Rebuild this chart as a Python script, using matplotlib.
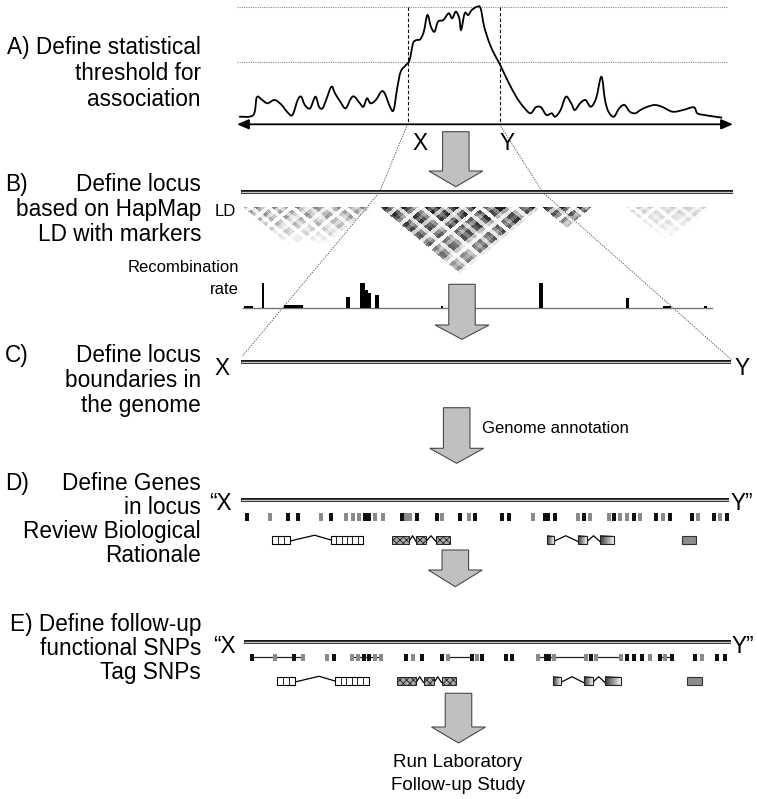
import numpy as np
import matplotlib
matplotlib.use("Agg")
import matplotlib.pyplot as plt
from matplotlib.patches import Polygon, Rectangle, PathPatch
from matplotlib.path import Path
from matplotlib.colors import LinearSegmentedColormap

plt.rcParams['font.family'] = ['Liberation Sans', 'DejaVu Sans']
plt.rcParams['hatch.linewidth'] = 0.6

# ---------------- data ----------------
# A) association signal along the region (x position, plotted level)
assoc_x = [239.1, 253.3, 256.8, 262.2, 267.5, 274.6, 281.7, 287.0, 292.4, 297.7, 301.2, 304.8,
           310.1, 315.4, 319.0, 322.5, 326.1, 331.4, 335.0, 340.3, 345.6, 351.0, 354.5, 359.9,
           363.4, 367.0, 370.5, 375.8, 381.2, 384.7, 390.0, 393.6, 397.2, 400.7, 406.0, 409.6,
           413.1, 416.7, 420.2, 423.8, 427.4, 430.9, 434.5, 438.0, 443.3, 448.7, 452.2, 455.8,
           459.3, 461.1, 464.7, 468.2, 471.8, 477.1, 480.6, 484.2, 489.5, 494.8, 500.2, 507.3,
           516.2, 523.3, 530.4, 535.7, 541.0, 546.4, 551.7, 555.2, 560.6, 565.9, 571.2, 574.8,
           580.1, 585.4, 590.8, 596.1, 601.4, 605.0, 608.5, 613.8, 619.2, 624.5, 629.8, 635.2,
           640.5, 647.6, 654.7, 661.8, 672.5, 683.1, 693.8, 697.3, 704.4, 715.1, 722.2]
assoc_y = [116.7, 115.0, 97.3, 100.0, 103.3, 100.0, 105.0, 111.7, 115.0, 100.0, 96.7, 105.0,
           108.3, 96.7, 106.7, 108.3, 100.0, 86.7, 93.3, 101.7, 108.3, 98.3, 96.7, 103.3,
           106.7, 98.3, 103.3, 100.0, 91.7, 93.3, 106.7, 110.0, 88.3, 71.7, 65.0, 60.0,
           43.3, 40.0, 39.3, 31.7, 15.0, 26.7, 31.7, 21.7, 20.0, 13.3, 18.3, 11.7,
           18.3, 30.0, 13.3, 15.0, 10.0, 6.7, 8.3, 26.7, 43.3, 55.0, 65.0, 80.0,
           96.7, 106.7, 113.3, 107.3, 107.3, 115.0, 113.3, 116.7, 110.0, 96.7, 103.3, 110.0,
           103.3, 100.0, 106.7, 98.3, 76.7, 100.0, 111.7, 116.7, 108.3, 105.0, 111.7, 113.3,
           110.0, 106.7, 105.0, 106.7, 111.7, 110.0, 107.3, 113.3, 115.0, 116.7, 117.7]
threshold_levels = [7.3, 62.0]
locus_bounds = [407.5, 499.5]

# B) LD markers (relative informativeness 0-9) and LD blocks
ld_marker_strength = ("8397295819" "6498379286" "9518973986" "2979489379"
                      "1869952879" "3984972968" "9179583969" "2879498593")
ld_block_start = [243, 380, 542, 626]
ld_block_end = [377, 541, 592, 711]
ld_block_r2 = [0.6, 0.9, 0.9, 0.35]
ld_block_reach = [90, 240, 60, 80]

# B) recombination rate peaks (left, width, rate)
recomb_left = [244, 261.5, 284, 346, 360, 364.5, 368, 375, 441, 539, 625.6, 663, 704]
recomb_width = [9, 2.5, 19, 4, 4.5, 3.5, 3, 4, 1.5, 4, 3.4, 8, 2.5]
recomb_rate = [2, 24.4, 2.5, 11, 25, 17.7, 14.4, 12.7, 1.5, 25, 9.4, 2, 1.5]

# D) SNPs in locus (b = black, g = grey, B = wide black)
snp_d_x = [247, 270, 288, 298, 321, 331, 346, 353, 359, 365, 369, 375, 383, 402, 406, 410, 417,
           437, 442, 460, 469, 475, 502, 509, 533, 546, 555, 578, 584, 590, 609, 614, 620, 627,
           634, 640, 656, 663, 670, 692, 698, 714, 720, 727]
snp_d_col = "bgbbgbgggbbggbggbbgbgbbbgBbgbggbggbgbgbbgbgb"

# E) follow-up SNPs and tag SNP links
snp_e_x = [252, 275, 294, 303, 327, 334, 352, 358, 364, 369, 375, 381, 406, 413, 422,
           442, 448, 472, 477, 482, 506, 512, 538, 547, 554, 586, 591, 596, 621, 627, 634,
           642, 650, 660, 665, 672, 695, 702, 717, 725]
snp_e_col = "bgbggbggbbggbgbbgbgbbbgBggbggbbbgbgbbgbb"
tag_links = [(252, 303), (352, 381), (448, 472), (538, 586), (596, 621), (660, 672)]

# Genes: exon extents and style
genes_d = [([(272, 290), (331, 363)], 'cells'),
           ([(392, 409), (416, 426), (436, 450)], 'hatch'),
           ([(547, 553.5), (578, 587), (600, 614)], 'grad'),
           ([(681.5, 696)], 'solid')]
genes_e = [([(277, 295), (335, 368.5)], 'cells'),
           ([(397, 416), (423.5, 434), (441.5, 456)], 'hatch'),
           ([(553, 560.5), (583.5, 592.5), (605, 621)], 'grad'),
           ([(687, 702)], 'solid')]
gene_cells = [3, 6]

# ---------------- figure ----------------
W, H = 757, 799
fig = plt.figure(figsize=(W / 100, H / 100), dpi=100)
ax = fig.add_axes([0, 0, 1, 1])
ax.set_xlim(0, W)
ax.set_ylim(H, 0)
ax.axis('off')

FS = 16.3
FS_S = 12
PT = 0.72  # px -> points

# ---- Panel labels ----
def label(x, y, s, ha='right', fs=FS):
    ax.text(x, y, s, ha=ha, va='baseline', fontsize=fs, color='black')

label(201, 54, "A) Define statistical")
label(201, 80, "threshold for")
label(201, 106, "association")
label(5, 191, "B)", ha='left'); label(201, 191, "Define locus")
label(201, 216, "based on HapMap")
label(201, 241, "LD with markers")
label(5, 362, "C)", ha='left'); label(201, 362, "Define locus")
label(201, 387, "boundaries in")
label(201, 412, "the genome")
label(5, 490, "D)", ha='left'); label(201, 490, "Define Genes")
label(201, 514, "in locus")
label(201, 538, "Review Biological")
label(201, 562, "Rationale")
label(201, 631, "E) Define follow-up")
label(201, 655, "functional SNPs")
label(201, 679, "Tag SNPs")
ax.text(458, 767, "Run Laboratory", ha='center', va='baseline', fontsize=13.5)
ax.text(458, 790, "Follow-up Study", ha='center', va='baseline', fontsize=13.5)

# ---- Panel A ----
axis_y = 124.3
for ty in threshold_levels:
    ax.plot([237, 727.5], [ty, ty], color='#8c8c8c', lw=0.8, ls=(0, (1, 1)), zorder=1)
for bx in locus_bounds:
    ax.plot([bx, bx], [threshold_levels[0], axis_y], color='black', lw=0.8,
            ls=(0, (3, 2)), zorder=2)

# smooth curve through the association values (Catmull-Rom as cubic Bezier)
P = np.column_stack([assoc_x, assoc_y])
verts = [tuple(P[0])]
codes = [Path.MOVETO]
for i in range(len(P) - 1):
    p0 = P[i - 1] if i > 0 else P[i]
    p1, p2 = P[i], P[i + 1]
    p3 = P[i + 2] if i + 2 < len(P) else P[i + 1]
    c1 = p1 + (p2 - p0) / 6.0
    c2 = p2 - (p3 - p1) / 6.0
    verts += [tuple(c1), tuple(c2), tuple(p2)]
    codes += [Path.CURVE4] * 3
ax.add_patch(PathPatch(Path(verts, codes), fill=False, ec='black', lw=1.3, zorder=3))

ax.annotate('', xy=(733, axis_y), xytext=(237, axis_y),
            arrowprops=dict(arrowstyle='<|-|>,head_length=0.7,head_width=0.3',
                            color='black', lw=1.3, shrinkA=0, shrinkB=0))
ax.text(420, 143.3, "X", ha='center', va='center', fontsize=FS)
ax.text(507, 143.3, "Y", ha='center', va='center', fontsize=FS)

# zoom guide lines
guide_kw = dict(color='#444444', lw=0.6, ls=(0, (1.5, 1.5)), zorder=2)
ax.plot([locus_bounds[0], 379.4, 241.9], [axis_y, 192.3, 356.7], **guide_kw)
ax.plot([locus_bounds[1], 542.8, 731.8], [axis_y, 192.3, 360.0], **guide_kw)

# ---- double chromosome lines ----
def dbl(x0, x1, y):
    ax.plot([x0, x1], [y, y], color='#1a1a1a', lw=4.0 * PT, solid_capstyle='butt', zorder=4)
    ax.plot([x0, x1], [y, y], color='#c8c8c8', lw=1.4 * PT, solid_capstyle='butt', zorder=4)

dbl(241, 733, 192.3)
dbl(241, 731, 361.7)
dbl(241, 729, 500)
dbl(244, 731, 641.7)

# ---- Panel B: LD heatmap ----
ld_top, ld_x0, ld_x1 = 206.7, 242.0, 712.0
k = 0.83
g = np.array([int(c) for c in ld_marker_strength], dtype=float) / 9.0
n = len(g)
spacing = (ld_x1 - ld_x0) / n
xs = np.arange(ld_x0, ld_x1, 1.0) + 0.5
ys = np.arange(ld_top, 292, 1.0) + 0.5
X, Y = np.meshgrid(xs, ys)
d = (Y - ld_top) / k
A = X - d
B = X + d
valid = (A >= ld_x0) & (B <= ld_x1)
ia = np.clip(((A - ld_x0) / spacing).astype(int), 0, n - 1)
ib = np.clip(((B - ld_x0) / spacing).astype(int), 0, n - 1)
img = np.zeros_like(X)
for s0, e0, r2, reach in zip(ld_block_start, ld_block_end, ld_block_r2, ld_block_reach):
    inblk = valid & (A >= s0) & (B <= e0)
    fade = np.clip(1 - (B - A) / reach, 0, 1) ** 0.5
    val = r2 * fade * (g[ia] * g[ib])
    img = np.where(inblk, np.maximum(img, val), img)
ax.imshow(img, extent=(ld_x0, ld_x1, ys[-1] + 0.5, ld_top), cmap='Greys', vmin=0.05, vmax=1.0,
          interpolation='bilinear', aspect='auto', zorder=1)
ax.text(235.5, 216, "LD", ha='right', va='baseline', fontsize=FS_S)
ax.text(239, 272.5, "Recombination", ha='right', va='baseline', fontsize=FS_S)
ax.text(239, 294, "rate", ha='right', va='baseline', fontsize=FS_S)

# recombination rate
rec_base = 307.7
ax.plot([242.6, 711.5], [rec_base, rec_base], color='#777777', lw=1.0, zorder=2)
ax.bar(recomb_left, [-r for r in recomb_rate], bottom=rec_base, width=recomb_width,
       align='edge', color='black', zorder=3)

# ---- gray arrows ----
def gray_arrow(cx, top, head_top, tip, sw=26.5, hw=54):
    pts = [(cx - sw / 2, top), (cx + sw / 2, top), (cx + sw / 2, head_top),
           (cx + hw / 2, head_top), (cx, tip), (cx - hw / 2, head_top), (cx - sw / 2, head_top)]
    ax.add_patch(Polygon(pts, closed=True, fc='#c0c0c0', ec='#4a4a4a', lw=0.8, zorder=6))

gray_arrow(455.8, 131.7, 171, 186.7)
gray_arrow(462.0, 284.3, 325, 339.3)
gray_arrow(456.7, 407.7, 448.3, 463.3)
gray_arrow(455.3, 550.0, 570, 586.7)
gray_arrow(458.5, 693.3, 727, 743)
ax.text(482.4, 428.3, "Genome annotation", ha='left', va='center', fontsize=FS_S)

# ---- C labels ----
ax.text(222, 368.3, "X", ha='center', va='center', fontsize=FS)
ax.text(742, 368.3, "Y", ha='center', va='center', fontsize=FS)

# ---- D and E ----
ax.text(232, 503.3, "\u201cX", ha='right', va='center', fontsize=FS)
ax.text(730, 503.3, "Y\u201d", ha='left', va='center', fontsize=FS)
ax.text(236, 646.7, "\u201cX", ha='right', va='center', fontsize=FS)
ax.text(731, 646.7, "Y\u201d", ha='left', va='center', fontsize=FS)

col_map = {'b': '#111111', 'g': '#8a8a8a', 'B': '#111111'}

def snps(xlist, cols, y0, h):
    widths = [7 if c == 'B' else 4 for c in cols]
    ax.bar(xlist, h, bottom=y0, width=widths, color=[col_map[c] for c in cols],
           align='center', zorder=5)

snps(snp_d_x, snp_d_col, 513.3, 8)
e_y0, e_h = 653.5, 7.5
for x0, x1 in tag_links:
    ax.plot([x0, x1], [e_y0 + e_h / 2, e_y0 + e_h / 2], color='#222222', lw=0.9, zorder=4)
snps(snp_e_x, snp_e_col, e_y0, e_h)

grad_cmap = LinearSegmentedColormap.from_list('gr', ['#3a3a3a', '#f2f2f2'])

def gene_models(genes, yc, h):
    top, bot = yc - h / 2, yc + h / 2
    for exons, style in genes:
        for (a0, a1), (b0, b1) in zip(exons[:-1], exons[1:]):
            if style == 'cells':
                apex = a1 + (b0 - a1) * 0.6
                ax.plot([a1, apex, b0], [yc + 1, top - 0.5, yc], color='black', lw=0.9, zorder=5)
            else:
                ax.plot([a1, (a1 + b0) / 2, b0], [yc + 1.5, top, yc + 1.5], color='black',
                        lw=0.9, zorder=5)
        for i, (x0, x1) in enumerate(exons):
            if style == 'cells':
                ax.add_patch(Rectangle((x0, top), x1 - x0, h, fc='white', ec='black',
                                       lw=0.8, zorder=6))
                nc = gene_cells[i]
                for j in range(1, nc):
                    xx = x0 + (x1 - x0) * j / nc
                    ax.plot([xx, xx], [top, bot], color='black', lw=0.6, zorder=7)
            elif style == 'hatch':
                ax.add_patch(Rectangle((x0, top), x1 - x0, h, fc='#a8a8a8', ec='#222222',
                                       hatch='xxxxx', lw=0.7, zorder=6))
            elif style == 'grad':
                ax.imshow(np.linspace(0, 1, 40)[None, :], cmap=grad_cmap,
                          extent=(x0, x1, bot, top), aspect='auto', zorder=6)
                ax.add_patch(Rectangle((x0, top), x1 - x0, h, fc='none', ec='#222222',
                                       lw=0.8, zorder=7))
            else:
                ax.add_patch(Rectangle((x0, top), x1 - x0, h, fc='#8c8c8c', ec='#333333',
                                       lw=0.8, zorder=6))

gene_models(genes_d, 540, 8.5)
gene_models(genes_e, 681, 8.5)

ax.set_xlim(0, W)
ax.set_ylim(H, 0)
fig.savefig("out.png", dpi=100)
